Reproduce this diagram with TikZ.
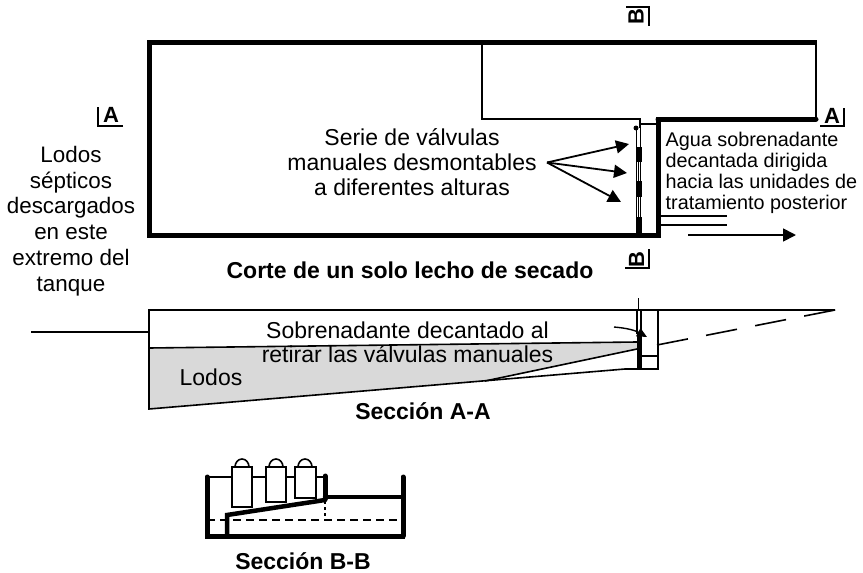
\documentclass[tikz,border=0pt]{standalone}
\usepackage{fontspec}
\setmainfont{Liberation Sans}
\usetikzlibrary{arrows.meta}
\tikzset{
    wall/.style={line width=5pt,line cap=round},
    thin wall/.style={line width=1.6pt},
    hair/.style={line width=1.2pt},
    pointer/.style={line width=1.8pt,-{Triangle[length=13pt,width=13pt]}},
    body text/.style={font=\fontsize{23}{25}\selectfont,align=center},
    side text/.style={font=\fontsize{19.8}{20.8}\selectfont,align=left,anchor=west},
    left text/.style={font=\fontsize{22.4}{25.8}\selectfont,align=center},
    title text/.style={font=\fontsize{23}{26}\selectfont\bfseries,inner sep=0pt},
    cut mark/.style={font=\fontsize{22}{24}\selectfont\bfseries,inner sep=0pt},
    vent/.style={draw,fill=white,line width=1.6pt}
    }
\begin{document}
\begin{tikzpicture}[x=1pt,y=-1pt]
    \useasboundingbox (0,0) rectangle (863,573);
    % corte de un lecho
    \draw[thin wall] (482,42) -- (482,119) -- (640,119) -- (640,128);
    \draw[thin wall] (816,42) -- (816,119);
    \draw[hair] (640,124) -- (658,124);
    \draw[wall,line cap=butt] (147,42) -- (817,42);
    \draw[wall,line cap=butt] (149,40) -- (149,238);
    \draw[wall,line cap=butt] (147,235) -- (660,235);
    \draw[wall,line cap=butt] (658,117) -- (658,238);
    \draw[wall] (658,119) -- (816,119);
    % valvulas
    \fill (636,128) circle (2.5);
    \draw[hair] (636.5,128) -- (636.5,235);
    \draw[hair] (640.5,128) -- (640.5,235);
    \draw[hair] (638.5,147) -- (638.5,235);
    \foreach \ytop/\ybot in {147/162,181/197,217/235}
        \fill (635.5,\ytop) rectangle (641.5,\ybot);
    \node (serie) [body text] at (412,162) {Serie de válvulas\\manuales desmontables\\a diferentes alturas};
    \coordinate (fan) at (547,162.5);
    \draw[pointer] (fan) -- (629,144);
    \draw[pointer] (fan) -- (627,173);
    \draw[pointer] (fan) -- (621,202);
    % salida
    \node (agua) [side text,inner sep=0pt] at (665.5,173) {Agua sobrenadante\\decantada dirigida\\hacia las unidades de\\tratamiento posterior};
    \draw[hair] (659,216) -- (727,216);
    \draw[hair] (659,225) -- (727,225);
    \draw[pointer] (688,235) -- (796,235);
    \node (lodos sep) [left text] at (71,221) {Lodos\\sépticos\\descargados\\en este\\extremo del\\tanque};
    \node (corte) [title text] at (410,270) {Corte de un solo lecho de secado};
    % marcas de corte
    \node (b up) [cut mark,rotate=90] at (636,17) {B};
    \draw[hair] (626,7) -- (649,7) -- (649,26);
    \node (b low) [cut mark,rotate=90] at (636.5,259.5) {B};
    \draw[hair] (625,268) -- (649,268) -- (649,249);
    \node (a right) [cut mark] at (832,115.5) {A};
    \draw[hair] (820,126) -- (844,126) -- (844,108);
    \node (a left) [cut mark] at (111,114.5) {A};
    \draw[hair] (123,126) -- (98,126) -- (98,107);
    % seccion A-A
    \fill[gray!30] (149,348) -- (637,342) -- (637,349) -- (485,381) -- (149,409) -- cycle;
    \draw[thin wall] (31,332) -- (149,332);
    \draw[thin wall] (835,310) -- (149,310) -- (149,409) -- (625,369) -- (658,369) -- (658,310);
    \draw[thin wall] (149,348) -- (637,342);
    \draw[thin wall] (637,349) -- (485,381);
    \draw[hair] (641,356) -- (658,356);
    \draw[hair] (637,310) -- (637,334);
    \draw[hair] (641,310) -- (641,334);
    \draw[hair] (638.5,298) -- (638.5,310);
    \fill (636.5,333) rectangle (641.5,369);
    \draw[thin wall,dash pattern=on 31.5pt off 18.5pt] (657,345) -- (835,310);
    \draw[line width=1.4pt,-{Triangle[length=10pt,width=9pt]}] (614,327) to[bend left=12] (647,337);
    \node (sobre) [body text,font=\fontsize{23}{24}\selectfont] at (407.5,342) {Sobrenadante decantado al\\retirar las válvulas manuales};
    \node (lodos) [body text] at (211,377) {Lodos};
    \node (seca) [title text] at (423,411) {Sección A-A};
    % seccion B-B
    \draw[hair] (207,477) -- (325,477);
    \foreach \xa/\xb/\ybot in {232/252/507,266/286/502,295/316/498}
    {
        \draw[thin wall] (\xa+3,467) arc[start angle=180,end angle=360,x radius=7,y radius=8];
        \draw[vent] (\xa,467) rectangle (\xb,\ybot);
    }
    \draw[wall] (207,477) -- (207,536);
    \draw[wall] (403,477) -- (403,536);
    \draw[wall] (325,476) -- (325,499);
    \draw[wall,line width=4.5pt] (325,497) -- (403,497);
    \draw[wall,line width=4.5pt] (227,536) -- (227,515) -- (325,500);
    \draw[wall,line cap=butt] (205,536) -- (405,536);
    \draw[thin wall,dash pattern=on 8pt off 5pt] (207,520) -- (403,520);
    \draw[thin wall,dash pattern=on 3pt off 3pt] (325,501) -- (325,520);
    \node (secb) [title text] at (303,561) {Sección B-B};
\end{tikzpicture}
\end{document}
